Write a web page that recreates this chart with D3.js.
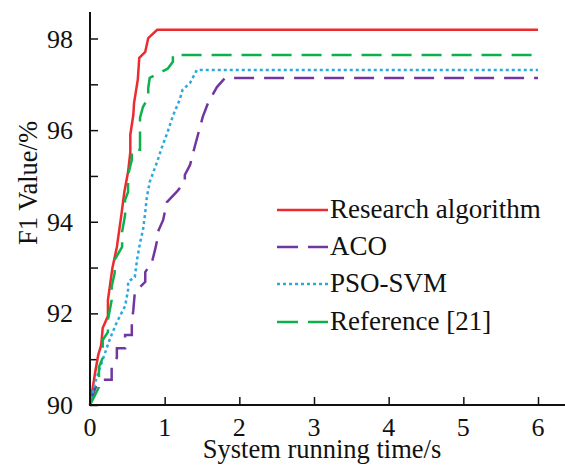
<!DOCTYPE html>
<html>
<head>
<meta charset="utf-8">
<script src="https://cdn.jsdelivr.net/npm/d3@7"></script>
<style>
  body { margin: 0; background: #fff; }
</style>
</head>
<body>
<script>
// Series names
var seriesNames = ["Research algorithm", "ACO", "PSO-SVM", "Reference [21]"];

// time (s) / F1 value (%)
var researchT = [0, 0.07, 0.11, 0.15, 0.17, 0.24, 0.24, 0.30, 0.36, 0.42, 0.46, 0.51, 0.54, 0.54, 0.58, 0.59, 0.64, 0.66, 0.74, 0.78, 0.90, 6];
var researchV = [90, 90.72, 91.09, 91.31, 91.68, 91.94, 92.29, 92.99, 93.45, 94.15, 94.65, 95.09, 95.52, 95.90, 96.33, 96.59, 97.10, 97.58, 97.71, 98.01, 98.19, 98.19];

var acoT = [0, 0.07, 0.17, 0.29, 0.29, 0.36, 0.36, 0.47, 0.47, 0.56, 0.56, 0.58, 0.60, 0.63, 0.74, 0.74, 0.83, 0.87, 0.90, 0.91, 0.98, 1.03, 1.16, 1.27, 1.27, 1.34, 1.38, 1.51, 1.58, 1.70, 1.81, 6];
var acoV = [90, 90.37, 90.55, 90.55, 90.87, 91.03, 91.24, 91.24, 91.53, 91.53, 91.81, 92.07, 92.45, 92.51, 92.69, 92.90, 93.12, 93.38, 93.60, 93.78, 94.04, 94.43, 94.65, 94.87, 95.02, 95.24, 95.50, 96.29, 96.59, 96.94, 97.14, 97.14];

var psoT = [0, 0.07, 0.16, 0.27, 0.36, 0.47, 0.51, 0.51, 0.60, 0.63, 0.67, 0.71, 0.74, 0.76, 0.80, 0.90, 0.96, 1.04, 1.11, 1.20, 1.24, 1.34, 1.43, 6];
var psoV = [90, 90.50, 90.94, 91.46, 91.81, 92.16, 92.51, 92.69, 92.79, 93.17, 93.54, 93.82, 94.21, 94.52, 94.87, 95.31, 95.61, 95.96, 96.31, 96.66, 96.88, 97.03, 97.31, 97.31];

var refT = [0, 0.12, 0.12, 0.17, 0.17, 0.24, 0.24, 0.29, 0.29, 0.33, 0.33, 0.43, 0.43, 0.47, 0.47, 0.51, 0.51, 0.56, 0.56, 0.67, 0.67, 0.71, 0.78, 0.78, 0.80, 1.04, 1.11, 1.11, 6];
var refV = [90, 90.39, 90.83, 91.03, 91.42, 91.59, 91.86, 92.29, 92.58, 92.88, 93.17, 93.45, 93.78, 94.15, 94.48, 94.65, 95.02, 95.35, 95.57, 95.57, 96.27, 96.51, 96.70, 96.92, 97.14, 97.34, 97.49, 97.64, 97.64];

var xTicks = [0, 1, 2, 3, 4, 5, 6];
var yTicks = [90, 91, 92, 93, 94, 95, 96, 97, 98];
var yLabelTicks = [90, 92, 94, 96, 98];

var svgWidth = 565;
var svgHeight = 465;
var serif = "'Liberation Serif', 'Times New Roman', Tinos, 'DejaVu Serif', serif";

var svg = d3.select("body")
    .append("svg")
    .attr("width", svgWidth)
    .attr("height", svgHeight)
    .attr("font-family", serif);

var xScale = d3.scaleLinear().domain([0, 6]).range([90, 538]);
var yScale = d3.scaleLinear().domain([90, 98]).range([405, 38.5]);

// series styles
var series = [
    {name: seriesNames[0], t: researchT, v: researchV, color: "#ee2a2e", dash: null},
    {name: seriesNames[1], t: acoT, v: acoV, color: "#7236a0", dash: "20,10"},
    {name: seriesNames[2], t: psoT, v: psoV, color: "#2aa9e0", dash: "3,3"},
    {name: seriesNames[3], t: refT, v: refV, color: "#0cb14b", dash: "20,10"}
];

var line = d3.line()
    .x(d => xScale(d[0]))
    .y(d => yScale(d[1]));

// axes: ticks point inward
var xAxis = svg.append("g")
    .attr("transform", "translate(0," + yScale(90) + ")")
    .call(d3.axisBottom(xScale).tickValues(xTicks).tickSizeInner(-8).tickSizeOuter(0).tickFormat(""));
xAxis.select(".domain").remove();
xAxis.selectAll("line").attr("stroke", "#111").attr("stroke-width", 1.5);

var yAxis = svg.append("g")
    .attr("transform", "translate(" + xScale(0) + ",0)")
    .call(d3.axisLeft(yScale).tickValues(yTicks).tickSizeInner(-8).tickSizeOuter(0).tickFormat(""));
yAxis.select(".domain").remove();
yAxis.selectAll("line").attr("stroke", "#111").attr("stroke-width", 1.5);

// draw the curves
series.forEach(function(s) {
    var pts = s.t.map((t, i) => [t, s.v[i]]);
    svg.append("path")
        .datum(pts)
        .attr("d", line)
        .attr("fill", "none")
        .attr("stroke", s.color)
        .attr("stroke-width", 2.5)
        .attr("stroke-dasharray", s.dash);
});

// axis lines drawn over the curves
svg.append("line")
    .attr("x1", xScale(0)).attr("x2", 565)
    .attr("y1", yScale(90)).attr("y2", yScale(90))
    .attr("stroke", "#111").attr("stroke-width", 2);
svg.append("line")
    .attr("x1", xScale(0)).attr("x2", xScale(0))
    .attr("y1", yScale(90) + 1).attr("y2", 12)
    .attr("stroke", "#111").attr("stroke-width", 2);

// tick labels
svg.selectAll(".xlab")
    .data(xTicks)
    .enter()
    .append("text")
    .attr("x", d => xScale(d))
    .attr("y", 436)
    .attr("text-anchor", "middle")
    .attr("fill", "#111")
    .style("font-size", "26px")
    .text(d => d);

svg.selectAll(".ylab")
    .data(yLabelTicks)
    .enter()
    .append("text")
    .attr("x", 73)
    .attr("y", d => yScale(d) + 9)
    .attr("text-anchor", "end")
    .attr("fill", "#111")
    .style("font-size", "26px")
    .text(d => d);

// axis titles
svg.append("text")
    .attr("x", 322)
    .attr("y", 458)
    .attr("text-anchor", "middle")
    .attr("fill", "#111")
    .style("font-size", "26.5px")
    .text("System running time/s");

svg.append("text")
    .attr("transform", "translate(37,183) rotate(-90)")
    .attr("text-anchor", "middle")
    .attr("fill", "#111")
    .style("font-size", "26.5px")
    .text("F1 Value/%");

// legend
var legendY = [210, 247, 284, 322];
series.forEach(function(s, i) {
    svg.append("line")
        .attr("x1", 277).attr("x2", 328)
        .attr("y1", legendY[i]).attr("y2", legendY[i])
        .attr("stroke", s.color)
        .attr("stroke-width", 2.5)
        .attr("stroke-dasharray", s.dash === "20,10" ? "21,10" : s.dash);
    svg.append("text")
        .attr("x", 330)
        .attr("y", legendY[i] + 8)
        .attr("fill", "#111")
        .style("font-size", "27px")
        .text(s.name);
});
</script>
</body>
</html>
